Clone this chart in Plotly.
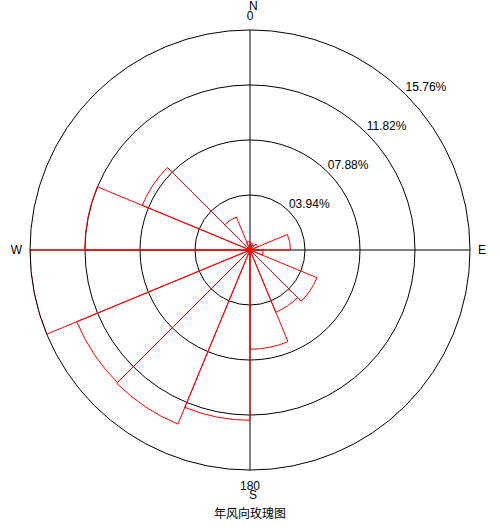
import plotly.graph_objects as go

# Sector start angles (degrees, clockwise from north) and frequencies (%)
sector_start = [0, 22.5, 45, 67.5, 90, 112.5, 135, 157.5,
                180, 202.5, 225, 247.5, 270, 292.5, 315, 337.5]
frequency = [0.5, 0.4, 0.6, 2.90, 0.95, 5.19, 4.82, 7.11,
             12.2, 13.5, 13.43, 15.76, 11.84, 8.36, 2.56, 0.6]

ring_values = [3.94, 7.88, 11.82, 15.76]
ring_labels = ["03.94%", "07.88%", "11.82%", "15.76%"]

compass_vals = [0, 90, 180, 270]
compass_text = ["0", "E", "180", "W"]
north_label = "N"
south_label = "S"

title_text = "年风向玫瑰图"

font_main = "Liberation Sans, Arial, sans-serif"

fig = go.Figure()

fig.add_trace(go.Barpolar(
    r=frequency,
    theta=sector_start,
    width=[22.5] * len(sector_start),
    offset=0,
    marker=dict(color="rgba(0,0,0,0)", line=dict(color="#ff0000", width=1)),
    showlegend=False,
))

fig.add_trace(go.Scatterpolar(
    r=ring_values,
    theta=[45] * len(ring_values),
    mode="text",
    text=ring_labels,
    textposition="top right",
    textfont=dict(family=font_main, size=12, color="black"),
    cliponaxis=False,
    showlegend=False,
    hoverinfo="skip",
))

fig.update_layout(
    width=500, height=530,
    margin=dict(l=30, r=30, t=30, b=60),
    paper_bgcolor="white",
    plot_bgcolor="white",
    font=dict(family=font_main, size=12, color="black"),
    title=dict(text=title_text, x=0.5, xanchor="center", y=1 - 514 / 530,
               yanchor="middle",
               font=dict(family="Noto Sans CJK SC, sans-serif", size=12, color="black")),
    polar=dict(
        domain=dict(x=[0, 1], y=[0, 1]),
        bgcolor="white",
        radialaxis=dict(
            range=[0, ring_values[-1]],
            tickvals=ring_values[:-1],
            showticklabels=False,
            ticks="",
            showline=False,
            gridcolor="black",
            gridwidth=1,
        ),
        angularaxis=dict(
            direction="clockwise",
            rotation=90,
            tickvals=compass_vals,
            ticktext=compass_text,
            ticks="outside",
            ticklen=5,
            tickcolor="rgba(0,0,0,0)",
            showline=True,
            linecolor="black",
            linewidth=1,
            gridcolor="black",
            gridwidth=1,
            tickfont=dict(family=font_main, size=12, color="black"),
        ),
    ),
    annotations=[
        dict(text=north_label, xref="paper", yref="paper", x=0.5, y=1,
             xanchor="center", yanchor="middle", yshift=24, xshift=3,
             showarrow=False, font=dict(family=font_main, size=12, color="black")),
        dict(text=south_label, xref="paper", yref="paper", x=0.5, y=0,
             xanchor="center", yanchor="middle", yshift=-25, xshift=3,
             showarrow=False, font=dict(family=font_main, size=12, color="black")),
    ],
)

fig.write_html("out.html", config={"displayModeBar": False},
               post_script="document.body.style.margin='0';")
